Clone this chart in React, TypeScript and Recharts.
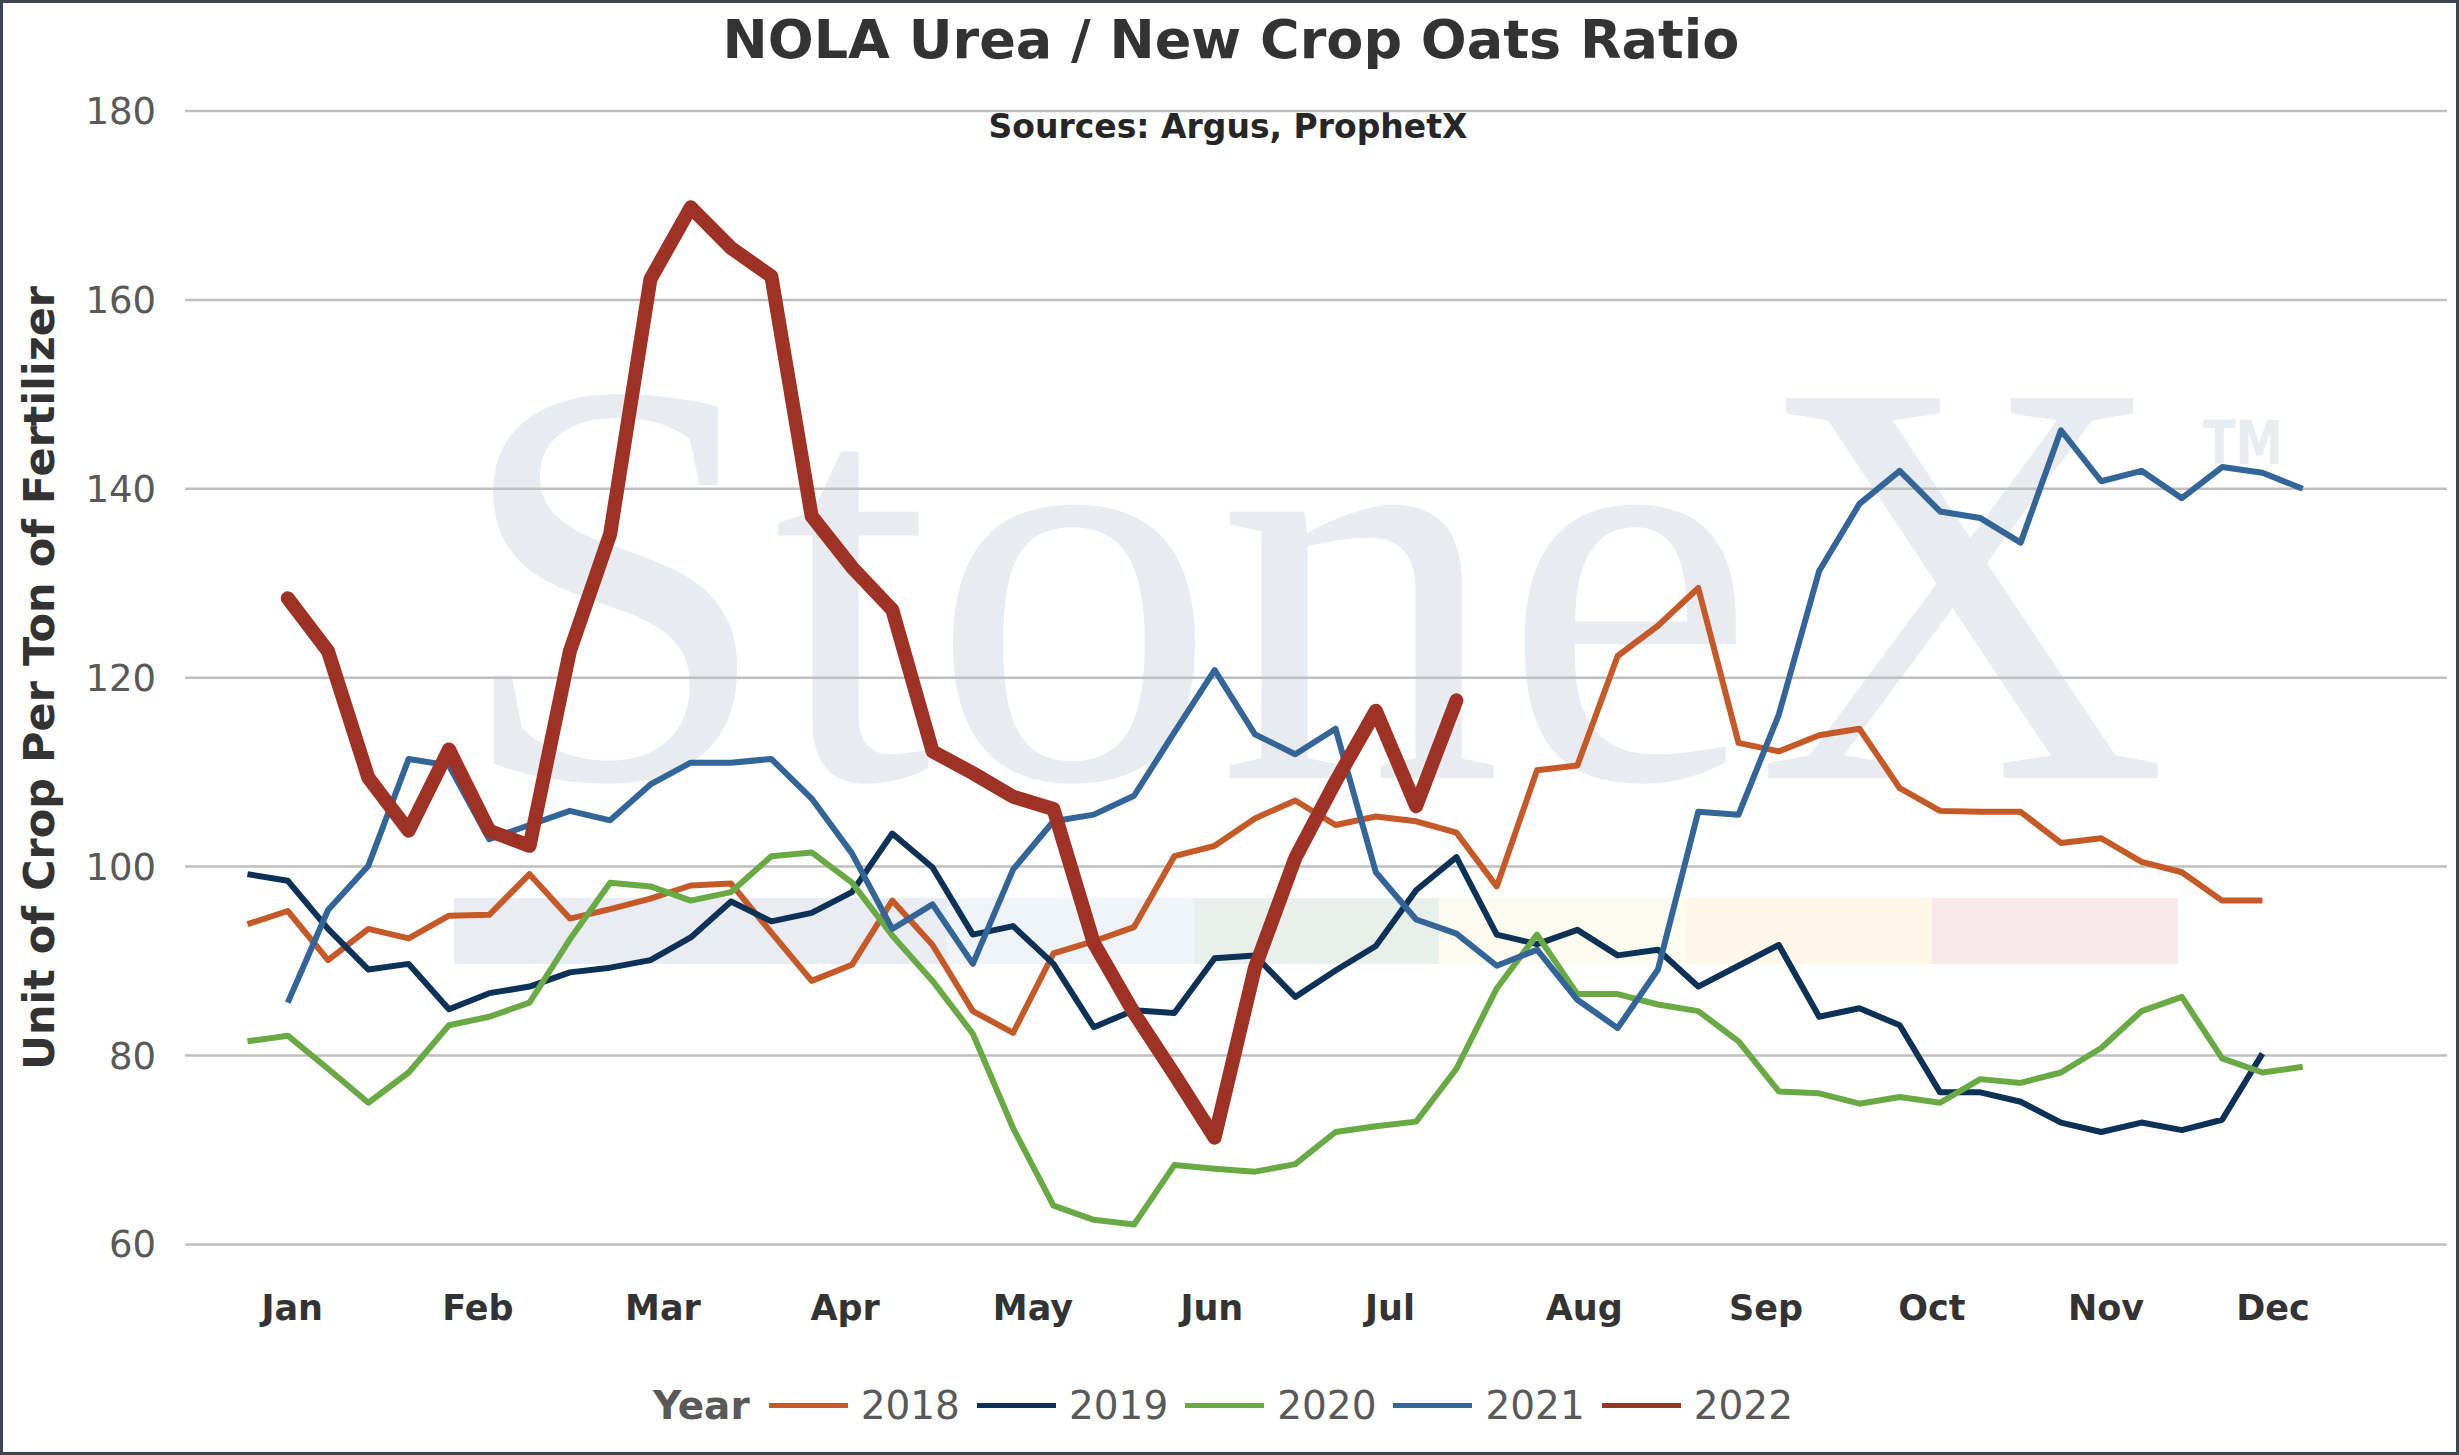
import { CartesianGrid, Legend, Line, LineChart, XAxis, YAxis } from 'recharts'

const WIDTH = 2459
const HEIGHT = 1455

// weekly points, index 0..51
const WEEKS = Array.from({ length: 52 }, (_, i) => i)

const MONTHS = ['Jan', 'Feb', 'Mar', 'Apr', 'May', 'Jun', 'Jul', 'Aug', 'Sep', 'Oct', 'Nov', 'Dec']
const MONTH_TICKS = [1.11, 5.72, 10.31, 14.83, 19.49, 23.93, 28.35, 33.17, 37.68, 41.8, 46.12, 50.26]
const Y_TICKS = [60, 80, 100, 120, 140, 160, 180]

const Y2018 = [
  93.9, 95.3, 90.1, 93.4, 92.4, 94.8, 94.9, 99.2, 94.5, 95.5,
  96.6, 98.0, 98.2, 93.0, 87.9, 89.6, 96.4, 91.7, 84.7, 82.4,
  90.8, 92.1, 93.6, 101.1, 102.2, 105.1, 107.0, 104.4, 105.3, 104.8,
  103.6, 97.9, 110.2, 110.7, 122.3, 125.5, 129.5, 113.1, 112.2, 113.9,
  114.6, 108.3, 105.9, 105.8, 105.8, 102.5, 103.0, 100.5, 99.4, 96.4,
  96.4, null,
]
const Y2019 = [
  99.2, 98.5, 93.4, 89.1, 89.7, 84.9, 86.6, 87.3, 88.8, 89.3,
  90.1, 92.5, 96.3, 94.2, 95.1, 97.3, 103.5, 99.9, 92.8, 93.7,
  89.7, 83.0, 84.8, 84.5, 90.3, 90.6, 86.2, 89.0, 91.6, 97.5,
  101.0, 92.8, 91.8, 93.3, 90.6, 91.2, 87.3, 89.5, 91.7, 84.1,
  85.0, 83.2, 76.1, 76.1, 75.1, 72.9, 71.9, 72.9, 72.1, 73.2,
  80.2, null,
]
const Y2020 = [
  81.5, 82.1, 78.6, 75.0, 78.2, 83.2, 84.1, 85.6, 92.3, 98.3,
  97.9, 96.4, 97.3, 101.1, 101.5, 98.3, 92.7, 87.9, 82.3, 72.3,
  64.1, 62.6, 62.1, 68.4, 68.0, 67.7, 68.5, 71.9, 72.5, 73.0,
  78.6, 87.1, 92.8, 86.5, 86.5, 85.4, 84.7, 81.5, 76.2, 76.0,
  74.9, 75.6, 75.0, 77.5, 77.1, 78.2, 80.8, 84.7, 86.2, 79.7,
  78.2, 78.8,
]
const Y2021 = [
  null, 85.6, 95.4, 100.1, 111.4, 110.7, 102.9, 104.4, 105.9, 104.9,
  108.7, 111.0, 111.0, 111.4, 107.2, 101.4, 93.4, 96.0, 89.7, 99.7,
  104.8, 105.5, 107.5, 114.2, 120.8, 114.0, 111.9, 114.6, 99.4, 94.4,
  92.9, 89.5, 91.2, 85.9, 82.9, 89.1, 105.8, 105.5, 116.1, 131.3,
  138.4, 141.9, 137.6, 136.9, 134.3, 146.2, 140.8, 141.9, 139.0, 142.3,
  141.7, 140.0,
]
const Y2022 = [
  null, 128.4, 122.8, 109.4, 103.8, 112.4, 103.8, 102.2, 122.8, 135.2,
  162.2, 169.8, 165.5, 162.5, 137.1, 131.7, 127.2, 112.2, 109.9, 107.4,
  106.1, 91.9, 84.5, 78.0, 71.3, 89.3, 100.9, 109.0, 116.5, 106.4,
  117.6,
]

const data = WEEKS.map((week, i) => ({
  week,
  y2018: Y2018[i] ?? null,
  y2019: Y2019[i] ?? null,
  y2020: Y2020[i] ?? null,
  y2021: Y2021[i] ?? null,
  y2022: Y2022[i] ?? null,
}))

const FONT = '"DejaVu Sans", Verdana, sans-serif'
const WATERMARK = '#E8EBF0'

// StoneX logo strip behind the plot
const BANDS = [
  { x: 454, w: 493, fill: '#E9EDF3' },
  { x: 947, w: 247, fill: '#EEF4F9' },
  { x: 1194, w: 245, fill: '#E7F0EA' },
  { x: 1439, w: 246, fill: '#FBFBEE' },
  { x: 1685, w: 247, fill: '#FDF6E9' },
  { x: 1932, w: 246, fill: '#F7E9E9' },
]

function MonthTick({ x, y, index }: any) {
  return (
    <text x={x} y={y} dy={76} textAnchor="middle" fill="#333333" fontSize={35} fontWeight="bold" fontFamily={FONT}>
      {MONTHS[index] ?? ''}
    </text>
  )
}

function ValueTick({ x, y, payload }: any) {
  return (
    <text x={x} y={y} dy={13} textAnchor="end" fill="#595959" fontSize={37} fontFamily={FONT}>
      {payload.value}
    </text>
  )
}

function YearLegend({ payload }: any) {
  return (
    <div
      style={{
        display: 'flex',
        justifyContent: 'center',
        alignItems: 'center',
        fontFamily: FONT,
        fontSize: 39,
        color: '#595959',
        paddingLeft: 4,
      }}
    >
      <span style={{ fontWeight: 'bold', marginRight: 19 }}>Year</span>
      {(payload ?? []).map((p: any) => (
        <span key={p.value} style={{ display: 'flex', alignItems: 'center', marginRight: 17 }}>
          <span style={{ display: 'inline-block', width: 79, height: 5, background: p.color, marginRight: 13 }} />
          <span>{p.value}</span>
        </span>
      ))}
    </div>
  )
}

export default function App() {
  return (
    <div style={{ position: 'absolute', left: 0, top: 0, width: WIDTH, height: HEIGHT, background: '#ffffff' }}>
      <svg width={WIDTH} height={HEIGHT} style={{ position: 'absolute', left: 0, top: 0 }}>
        <text x={455} y={778} fontFamily='"Liberation Serif", serif' fontSize={580} fill={WATERMARK} textLength={1713} lengthAdjust="spacingAndGlyphs">
          StoneX
        </text>
        <text x={2203} y={464} fontFamily={FONT} fontWeight="bold" fontSize={60} fill={WATERMARK} textLength={80} lengthAdjust="spacingAndGlyphs">
          TM
        </text>
        {BANDS.map((b) => (
          <rect key={b.x} x={b.x} y={898} width={b.w} height={66} fill={b.fill} />
        ))}
        <text x={1231} y={58} textAnchor="middle" fontFamily={FONT} fontWeight="bold" fontSize={54} fill="#333333">
          NOLA Urea / New Crop Oats Ratio
        </text>
        <text x={1228} y={138} textAnchor="middle" fontFamily={FONT} fontWeight="bold" fontSize={33} fill="#262626">
          Sources: Argus, ProphetX
        </text>
        <text x={54} y={678} transform="rotate(-90 54 678)" textAnchor="middle" fontFamily={FONT} fontWeight="bold" fontSize={43} fill="#333333">
          Unit of Crop Per Ton of Fertilizer
        </text>
      </svg>
      <div style={{ position: 'absolute', left: 0, top: 0 }}>
        <LineChart width={WIDTH} height={HEIGHT} data={data} margin={{ top: 111, right: 12, bottom: 0, left: 0 }}>
          <CartesianGrid horizontal vertical={false} stroke="#BFBFBF" strokeWidth={2.5} />
          <XAxis
            dataKey="week"
            type="number"
            domain={[-1.55, 54.58]}
            allowDataOverflow
            ticks={MONTH_TICKS}
            interval={0}
            height={210.6}
            axisLine={false}
            tickLine={false}
            tickSize={0}
            tickMargin={0}
            tick={<MonthTick />}
          />
          <YAxis
            type="number"
            domain={[60, 180]}
            ticks={Y_TICKS}
            allowDataOverflow
            width={185}
            axisLine={false}
            tickLine={false}
            tickSize={0}
            tickMargin={29}
            tick={<ValueTick />}
          />
          <Legend
            layout="horizontal"
            verticalAlign="middle"
            align="center"
            width={WIDTH}
            content={<YearLegend />}
            wrapperStyle={{ position: 'absolute', left: 0, top: 1383, width: WIDTH }}
          />
          <Line dataKey="y2018" name="2018" stroke="#C55A28" strokeWidth={6} dot={false} activeDot={false} strokeLinejoin="round" isAnimationActive={false} />
          <Line dataKey="y2019" name="2019" stroke="#0E3157" strokeWidth={6} dot={false} activeDot={false} strokeLinejoin="round" isAnimationActive={false} />
          <Line dataKey="y2020" name="2020" stroke="#6AAA45" strokeWidth={6} dot={false} activeDot={false} strokeLinejoin="round" isAnimationActive={false} />
          <Line dataKey="y2021" name="2021" stroke="#336599" strokeWidth={6} dot={false} activeDot={false} strokeLinejoin="round" isAnimationActive={false} />
          <Line dataKey="y2022" name="2022" stroke="#9E3224" strokeWidth={14} dot={false} activeDot={false} strokeLinejoin="round" strokeLinecap="round" isAnimationActive={false} />
        </LineChart>
      </div>
      <div
        style={{
          position: 'absolute',
          left: 0,
          top: 0,
          width: WIDTH,
          height: HEIGHT,
          boxSizing: 'border-box',
          border: '3px solid #3c4450',
          pointerEvents: 'none',
        }}
      />
    </div>
  )
}
